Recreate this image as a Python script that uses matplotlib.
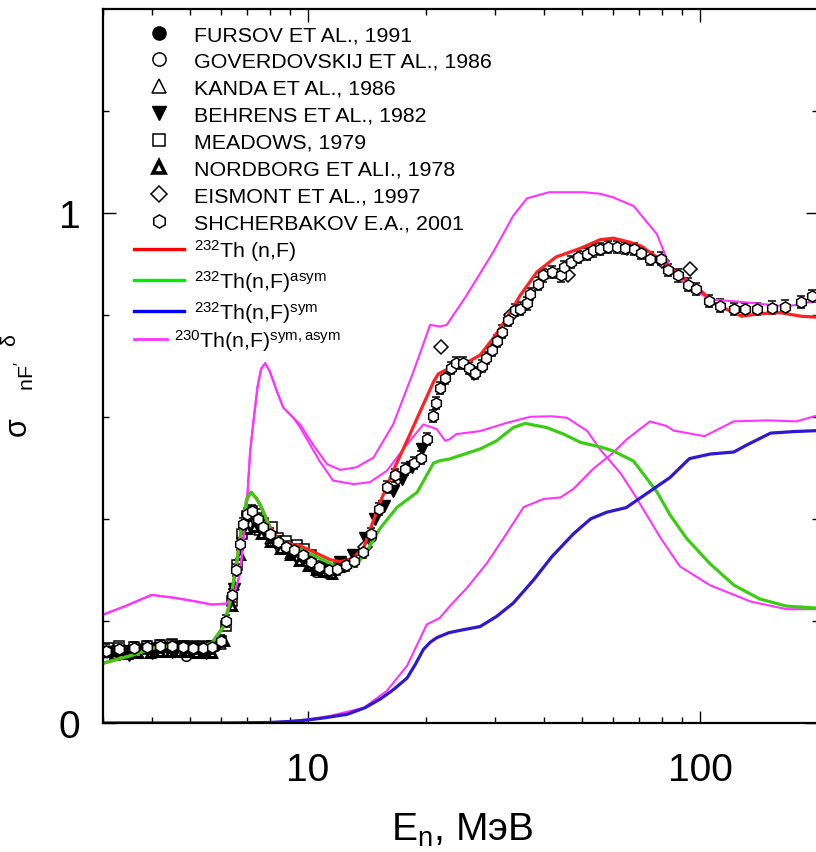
import matplotlib
matplotlib.use('Agg')
import matplotlib.pyplot as plt
from matplotlib.lines import Line2D
from matplotlib.ticker import FixedLocator, NullFormatter

plt.rcParams['font.family'] = ['Liberation Sans', 'DejaVu Sans']
plt.rcParams['mathtext.fontset'] = 'custom'
plt.rcParams['mathtext.rm'] = 'Liberation Sans'
plt.rcParams['mathtext.it'] = 'Liberation Sans:italic'
plt.rcParams['mathtext.default'] = 'regular'

# ---------------- data (E in MeV) ----------------
# 232Th(n,F) total
th232_x = [3.0, 3.5, 4.1, 4.6, 5.2, 5.7, 6.1, 6.35, 6.6, 6.8, 7.0, 7.17, 7.4, 7.6, 8.0,
           8.5, 9.5, 10.3, 11.4, 12.1, 13.0, 13.9, 14.4, 15.3, 16.5, 17.9, 19.4, 20.1,
           20.9, 21.5, 22.5, 24.9, 27.5, 29.7, 32.1, 34.8, 38.4, 42.9, 49.5, 55.6, 60.1,
           66.3, 70.5, 79.4, 89.0, 100.0, 110.0, 127.6, 142.3, 160.0, 181.0, 200.0]
th232_y = [0.117, 0.131, 0.148, 0.152, 0.146, 0.157, 0.189, 0.240, 0.318, 0.390, 0.440, 0.452,
           0.440, 0.424, 0.385, 0.354, 0.348, 0.336, 0.320, 0.316, 0.322, 0.345, 0.378,
           0.433, 0.494, 0.553, 0.613, 0.639, 0.668, 0.684, 0.692, 0.702, 0.721, 0.754,
           0.793, 0.838, 0.884, 0.913, 0.930, 0.947, 0.950, 0.942, 0.935, 0.908, 0.876,
           0.848, 0.820, 0.797, 0.802, 0.804, 0.797, 0.795]

# 232Th(n,F) asymmetric
asym_x = [3.0, 3.5, 4.1, 4.6, 5.2, 5.7, 6.1, 6.35, 6.6, 6.8, 7.0, 7.17, 7.4, 7.6, 8.0, 8.5,
          9.4, 10.5, 11.6, 12.6, 13.3, 14.1, 15.3, 16.9, 19.0, 20.9, 21.7, 22.9, 27.5,
          30.3, 33.4, 35.8, 40.6, 44.9, 49.5, 55.6, 60.1, 67.7, 77.6, 83.8, 92.3, 106.0,
          122.0, 142.0, 166.0, 200.0]
asym_y = [0.117, 0.131, 0.148, 0.152, 0.146, 0.157, 0.189, 0.240, 0.318, 0.390, 0.440, 0.452,
          0.440, 0.424, 0.382, 0.348, 0.343, 0.326, 0.310, 0.301, 0.310, 0.335, 0.382,
          0.423, 0.452, 0.509, 0.514, 0.517, 0.537, 0.553, 0.579, 0.587, 0.579, 0.566,
          0.550, 0.541, 0.533, 0.513, 0.453, 0.408, 0.362, 0.312, 0.270, 0.243, 0.229, 0.225]

# 232Th(n,F) symmetric
sym_x = [3.0, 6.0, 8.0, 9.0, 10.0, 11.0, 12.6, 14.0, 15.3, 16.5, 17.9, 18.8, 19.7, 20.5,
         21.3, 22.9, 25.0, 27.5, 30.3, 33.4, 37.6, 41.9, 47.6, 52.6, 57.8, 64.8, 74.5, 83.8,
         93.9, 106.0, 121.9, 131.7, 151.2, 173.1, 200.0]
sym_y = [0.0, 0.0, 0.001, 0.003, 0.006, 0.010, 0.017, 0.030, 0.047, 0.065, 0.088, 0.115,
         0.144, 0.158, 0.167, 0.177, 0.183, 0.189, 0.209, 0.235, 0.280, 0.326, 0.371, 0.400,
         0.413, 0.422, 0.454, 0.481, 0.518, 0.527, 0.531, 0.545, 0.568, 0.571, 0.573]

# 230Th(n,F): total, asymmetric, symmetric
th230_x = [3.0, 3.4, 4.0, 4.6, 5.2, 5.7, 6.2, 6.46, 6.72, 6.85, 7.0, 7.13, 7.29, 7.45, 7.6,
           7.79, 8.0, 8.34, 8.66, 9.19, 9.56, 10.3, 11.2, 12.1, 13.3, 14.7, 16.5, 18.6,
           20.5, 21.7, 22.6, 25.4, 29.7, 33.4, 36.2, 41.2, 50.5, 55.6, 60.0, 67.7, 77.6,
           83.8, 92.3, 106.0, 127.6, 148.5, 166.4, 200.0]
th230_y = [0.212, 0.228, 0.251, 0.245, 0.238, 0.232, 0.234, 0.248, 0.293, 0.360, 0.436,
           0.533, 0.600, 0.660, 0.694, 0.705, 0.689, 0.650, 0.618, 0.598, 0.585, 0.546,
           0.507, 0.496, 0.501, 0.520, 0.585, 0.689, 0.780, 0.777, 0.780, 0.838, 0.923,
           0.994, 1.028, 1.040, 1.040, 1.037, 1.030, 1.013, 0.958, 0.894, 0.857, 0.830,
           0.825, 0.820, 0.816, 0.828]

th230a_x = [3.0, 3.4, 4.0, 4.6, 5.2, 5.7, 6.2, 6.46, 6.72, 6.85, 7.0, 7.13, 7.29, 7.45, 7.6,
            7.79, 8.0, 8.34, 8.66, 9.19, 9.56, 10.7, 11.6, 13.1, 14.4, 15.9, 17.9, 19.7,
            21.3, 22.4, 23.0, 23.9, 27.5, 32.1, 36.9, 41.9, 45.8, 51.6, 55.6, 62.6, 67.7,
            79.4, 88.8, 106.0, 134.5, 166.4, 200.0]
th230a_y = [0.212, 0.228, 0.251, 0.245, 0.238, 0.232, 0.234, 0.248, 0.293, 0.360, 0.436,
            0.533, 0.600, 0.660, 0.694, 0.705, 0.689, 0.650, 0.618, 0.598, 0.579, 0.514,
            0.475, 0.468, 0.472, 0.494, 0.546, 0.585, 0.576, 0.553, 0.556, 0.566, 0.572,
            0.588, 0.600, 0.601, 0.598, 0.572, 0.536, 0.490, 0.450, 0.362, 0.307, 0.270,
            0.238, 0.223, 0.223]

th230s_x = [3.0, 6.0, 8.5, 10.0, 11.4, 13.9, 15.9, 17.9, 20.1, 21.7, 23.2, 25.4, 28.6, 32.1,
            35.5, 39.9, 44.1, 47.6, 53.4, 60.1, 64.8, 74.5, 82.1, 85.6, 102.6, 121.9, 148.5,
            175.9, 200.0]
th230s_y = [0.0, 0.0, 0.002, 0.007, 0.014, 0.030, 0.063, 0.112, 0.193, 0.206, 0.232, 0.264,
            0.313, 0.371, 0.423, 0.439, 0.442, 0.459, 0.498, 0.530, 0.555, 0.591, 0.582,
            0.573, 0.562, 0.591, 0.593, 0.591, 0.603]

# experimental data
fursov_x = [3.0, 3.03, 3.06, 3.1, 3.13, 3.17, 3.2, 3.25, 3.3, 3.35, 3.4, 3.5, 3.6, 3.7, 3.8,
            3.9, 4.0, 4.1, 4.2, 4.3, 4.4, 4.5, 4.6, 4.7, 4.8, 4.9, 5.0, 5.1, 5.2, 5.3, 5.4,
            5.5, 5.6, 5.7, 5.8]
fursov_y = [0.140, 0.141, 0.140, 0.142, 0.141, 0.142, 0.141, 0.142, 0.143, 0.143, 0.143,
            0.144, 0.145, 0.145, 0.146, 0.146, 0.147, 0.148, 0.148, 0.149, 0.149, 0.150,
            0.150, 0.150, 0.149, 0.149, 0.148, 0.148, 0.147, 0.147, 0.147, 0.147, 0.148,
            0.149, 0.150]
goverd_x = [3.1, 3.6, 4.2, 4.9, 5.4, 6.0, 7.0, 7.6, 8.5, 9.5, 10.5, 11.2, 12.3, 14.5]
goverd_y = [0.142, 0.146, 0.148, 0.131, 0.140, 0.158, 0.390, 0.392, 0.342, 0.322, 0.296,
            0.293, 0.305, 0.365]
kanda_x = [5.0, 5.5, 6.0, 6.5, 7.0, 7.5, 8.0, 9.0, 10.0, 11.0, 12.0]
kanda_y = [0.142, 0.140, 0.155, 0.270, 0.380, 0.378, 0.360, 0.332, 0.318, 0.303, 0.305]
behrens_x = [3.5, 4.0, 4.5, 5.0, 5.5, 6.5, 7.0, 7.5, 8.0, 9.0, 10.0, 11.0, 12.1, 13.0, 14.0,
             14.8, 15.6, 16.5, 17.4, 18.4, 19.5]
behrens_y = [0.134, 0.138, 0.139, 0.140, 0.137, 0.262, 0.400, 0.392, 0.362, 0.333, 0.315,
             0.304, 0.316, 0.330, 0.362, 0.400, 0.425, 0.455, 0.478, 0.502, 0.537]
meadows_x = [3.1, 3.3, 3.6, 3.9, 4.2, 4.5, 4.8, 5.1, 5.4, 5.7, 6.0, 6.2, 6.4, 6.6, 6.8, 7.0,
             7.2, 7.4, 7.7, 8.1, 8.4, 8.8, 9.4, 9.8, 10.2]
meadows_y = [0.146, 0.150, 0.148, 0.150, 0.152, 0.154, 0.150, 0.150, 0.151, 0.150, 0.160,
             0.190, 0.240, 0.310, 0.370, 0.405, 0.415, 0.410, 0.392, 0.384, 0.362, 0.356,
             0.348, 0.340, 0.330]
nordb_x = [3.2, 3.45, 3.7, 3.95, 4.2, 4.45, 4.7, 4.95, 5.2, 5.45, 5.7, 6.1, 6.4, 6.7, 7.0,
           7.3, 7.6, 8.0, 8.5, 9.0, 9.5, 10.0, 10.5, 11.0, 11.5]
nordb_y = [0.133, 0.135, 0.137, 0.138, 0.139, 0.140, 0.140, 0.139, 0.138, 0.137, 0.137,
           0.160, 0.230, 0.330, 0.380, 0.385, 0.370, 0.355, 0.340, 0.330, 0.318, 0.308,
           0.300, 0.295, 0.292]
eismont_x = [14.0, 17.0, 21.9, 26.5, 33.0, 46.0, 65.0, 80.0, 94.1]
eismont_y = [0.345, 0.480, 0.736, 0.685, 0.800, 0.878, 0.930, 0.905, 0.889]
shch_x = [3.05, 3.3, 3.6, 3.9, 4.2, 4.5, 4.8, 5.1, 5.4, 5.7, 6.0, 6.2, 6.4, 6.55, 6.7, 6.85,
          7.0, 7.2, 7.45, 7.7, 8.0, 8.4, 8.8, 9.2, 9.7, 10.2, 10.7, 11.3, 11.9, 12.5, 13.1,
          13.8, 14.5, 15.2, 15.9, 16.7, 17.7, 18.6, 19.4, 20.1, 20.9, 21.2, 21.7, 22.4, 23.2,
          23.9, 24.9, 25.7, 26.7, 27.8, 28.4, 29.4, 30.3, 31.2, 32.4, 33.7, 34.7, 36.2, 36.9,
          38.7, 39.7, 41.8, 44.1, 44.9, 47.0, 48.9, 51.6, 53.4, 55.6, 58.3, 61.3, 64.4, 67.7,
          70.5, 74.5, 79.4, 83.0, 87.9, 92.9, 97.8, 105.1, 112.7, 121.9, 130.5, 139.6, 152.6,
          164.7, 180.5, 192.9]
shch_y = [0.142, 0.145, 0.147, 0.148, 0.150, 0.150, 0.148, 0.147, 0.146, 0.148, 0.160, 0.200,
          0.250, 0.300, 0.350, 0.390, 0.410, 0.415, 0.400, 0.385, 0.370, 0.355, 0.345, 0.338,
          0.330, 0.315, 0.305, 0.300, 0.302, 0.310, 0.318, 0.335, 0.370, 0.420, 0.462, 0.485,
          0.498, 0.510, 0.520, 0.556, 0.601, 0.627, 0.657, 0.676, 0.696, 0.705, 0.705, 0.696,
          0.686, 0.699, 0.715, 0.731, 0.748, 0.767, 0.790, 0.809, 0.812, 0.822, 0.841, 0.861,
          0.877, 0.884, 0.877, 0.893, 0.903, 0.913, 0.919, 0.926, 0.929, 0.932, 0.932, 0.930,
          0.929, 0.921, 0.910, 0.910, 0.887, 0.877, 0.859, 0.851, 0.827, 0.818, 0.811, 0.811,
          0.811, 0.814, 0.816, 0.825, 0.837]
shch_err = 0.012

marker_labels = ['FURSOV ET AL., 1991', 'GOVERDOVSKIJ ET AL., 1986', 'KANDA ET AL., 1986',
                 'BEHRENS ET AL., 1982', 'MEADOWS, 1979', 'NORDBORG ET ALI., 1978',
                 'EISMONT ET AL., 1997', 'SHCHERBAKOV E.A., 2001']
line_labels = [r'$^{232}$Th (n,F)', r'$^{232}$Th(n,F)$^{asym}$', r'$^{232}$Th(n,F)$^{sym}$']
th230_label = r'$^{230}$Th(n,F)$^{sym,asym}$'

RED = '#ff2222'
GREEN = '#3ccc14'
BLUE = '#2e18d0'
MAG = '#ff33ff'

fig = plt.figure(figsize=(8.16, 8.53), dpi=100)
ax = fig.add_axes([102.7 / 816, 129 / 853, 715.5 / 816, 714.5 / 853])
ax.set_xscale('log')
ax.set_xlim(3, 200)
ax.set_ylim(0, 1.4)

ms = 7
open_kw = dict(ls='none', mfc='white', mec='black', mew=1.1, ms=ms)
ax.plot(meadows_x, meadows_y, marker='s', **open_kw)
ax.plot(goverd_x, goverd_y, marker='o', **open_kw)
ax.plot(kanda_x, kanda_y, marker='^', **open_kw)
ax.plot(nordb_x, nordb_y, marker='^', ls='none', mfc='white', mec='black', mew=2.2, ms=ms - 1)
ax.errorbar(shch_x, shch_y, yerr=shch_err, fmt='h', mfc='white', mec='black', mew=1.1,
            ms=ms + 1, ecolor='black', elinewidth=0.9, capsize=3, capthick=0.9)
ax.plot(eismont_x, eismont_y, marker='D', ls='none', mfc='white', mec='black', mew=1.1, ms=ms)
ax.plot(fursov_x, fursov_y, marker='o', ls='none', color='black', ms=ms + 0.5)
ax.plot(behrens_x, behrens_y, marker='v', ls='none', color='black', ms=ms + 1)

ax.plot(th230_x, th230_y, color=MAG, lw=1.5)
ax.plot(th230a_x, th230a_y, color=MAG, lw=1.5)
ax.plot(th230s_x, th230s_y, color=MAG, lw=1.5)
ax.plot(th232_x, th232_y, color=RED, lw=2.3)
ax.plot(asym_x, asym_y, color=GREEN, lw=2.3)
ax.plot(sym_x, sym_y, color=BLUE, lw=2.3)

# ticks
ax.xaxis.set_major_locator(FixedLocator([10, 100]))
ax.xaxis.set_minor_locator(FixedLocator([3, 4, 5, 6, 7, 8, 9, 20, 30, 40, 50, 60, 70, 80, 90]))
ax.xaxis.set_minor_formatter(NullFormatter())
ax.set_xticklabels(['10', '100'])
ax.yaxis.set_major_locator(FixedLocator([0, 1]))
ax.yaxis.set_minor_locator(FixedLocator([0.2, 0.4, 0.6, 0.8, 1.2]))
ax.set_yticklabels(['0', '1'])
ax.tick_params(which='both', direction='in', top=True, right=True, width=1.0)
ax.tick_params(which='major', length=9, labelsize=28)
ax.tick_params(which='minor', length=4.5)
ax.tick_params(axis='x', which='major', pad=21)
ax.tick_params(axis='y', which='major', pad=16)
for s in ax.spines.values():
    s.set_linewidth(1.6)

ax.set_xlabel('E$_{n}$, МэВ', fontsize=28, va='center')
ax.xaxis.set_label_coords((462 - 102.7) / 715.5, (724 - 830) / 714.5)
ax.set_ylabel(r"$\sigma_{\quad\;\ nF'}\;\;{}^{\delta}$", fontsize=22, va='center', ha='center')
ax.yaxis.set_label_coords((17 - 102.7) / 715.5, (724 - 386) / 714.5)

# legends
common = dict(loc='upper left', bbox_transform=fig.transFigure, frameon=False,
              fontsize=15.4, borderpad=0, borderaxespad=0)
marker_handles = [
    Line2D([], [], marker='o', ls='none', color='black', ms=9.5),
    Line2D([], [], marker='o', ls='none', mfc='white', mec='black', mew=1.1, ms=9.5),
    Line2D([], [], marker='^', ls='none', mfc='white', mec='black', mew=1.1, ms=9.5),
    Line2D([], [], marker='v', ls='none', color='black', ms=10.5),
    Line2D([], [], marker='s', ls='none', mfc='white', mec='black', mew=1.1, ms=8.5),
    Line2D([], [], marker='^', ls='none', mfc='white', mec='black', mew=2.6, ms=8),
    Line2D([], [], marker='D', ls='none', mfc='white', mec='black', mew=1.1, ms=8.5),
    Line2D([], [], marker='h', ls='none', mfc='white', mec='black', mew=1.1, ms=9.5),
]
leg1 = ax.legend(marker_handles, marker_labels, bbox_to_anchor=(134 / 816, 1 - 26 / 853),
                 handlelength=2.36, handletextpad=0.45, labelspacing=0.37, **common)
ax.add_artist(leg1)
line_handles = [Line2D([], [], color='#ff0000', lw=2.4),
                Line2D([], [], color='#00ee00', lw=2.4),
                Line2D([], [], color='#0000ff', lw=2.4)]
leg2 = ax.legend(line_handles, line_labels, bbox_to_anchor=(134 / 816, 1 - 238 / 853),
                 handlelength=2.36, handletextpad=0.45, labelspacing=0.23, **common)
ax.add_artist(leg2)
leg3 = ax.legend([Line2D([], [], color=MAG, lw=2.0)], [th230_label],
                 bbox_to_anchor=(134 / 816, 1 - 328 / 853),
                 handlelength=1.54, handletextpad=0.35, **common)

fig.savefig('out.png', dpi=100)
